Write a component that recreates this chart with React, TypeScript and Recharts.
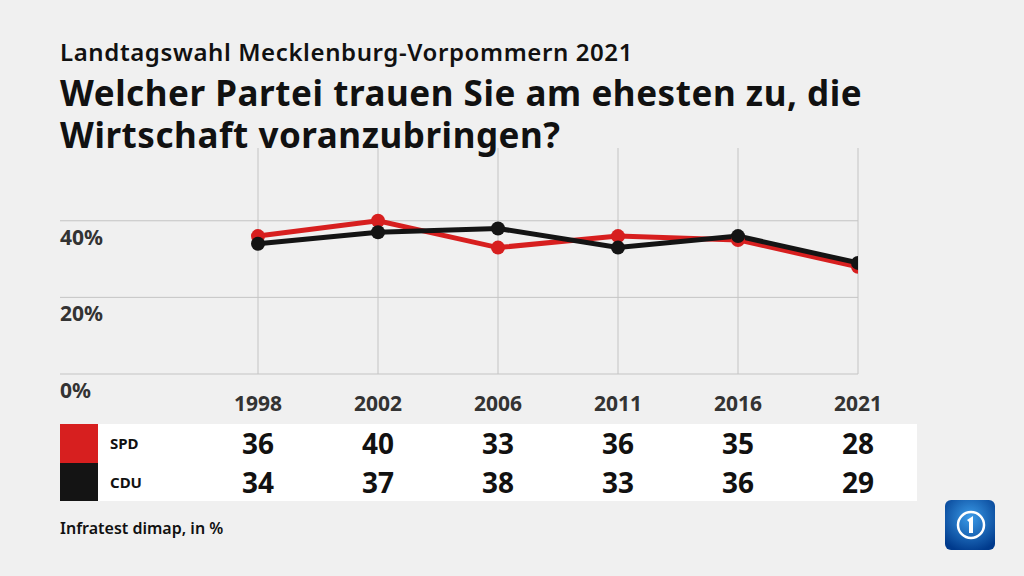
import React from 'react';
import { LineChart, Line, XAxis, YAxis, CartesianGrid } from 'recharts';

const years = ['1998', '2002', '2006', '2011', '2016', '2021'];
const spd = [36, 40, 33, 36, 35, 28];
const cdu = [34, 37, 38, 33, 36, 29];
const yTicks = [0, 20, 40];
const xTicks = [0, 1, 2, 3, 4, 5];

const data = years.map((year, i) => ({ i, year, spd: spd[i], cdu: cdu[i] }));

const RED = '#d71f1f';
const BLACK = '#141414';
const BG = '#f0f0f0';
const FONT = '"Noto Sans", "Open Sans", sans-serif';

const plotLeft = 60;
const plotRight = 858;
const xMin = -1.65;
const xMax = 5;
const xPos = (i: number) => plotLeft + ((i - xMin) / (xMax - xMin)) * (plotRight - plotLeft);

const titleLines = ['Welcher Partei trauen Sie am ehesten zu, die', 'Wirtschaft voranzubringen?'];

const YTick = (props: any) => {
  const { x, y, payload } = props;
  return (
    <text x={x} y={y + 24} fill="#333" fontSize={21} fontWeight={700} fontFamily={FONT} textAnchor="start">
      {payload.value}%
    </text>
  );
};

const XTick = (props: any) => {
  const { x, y, payload } = props;
  return (
    <text x={x} y={y + 29} fill="#333" fontSize={21} fontWeight={700} fontFamily={FONT} textAnchor="middle">
      {years[payload.value]}
    </text>
  );
};

const Logo = () => (
  <svg width={50} height={50} viewBox="0 0 50 50" style={{ position: 'absolute', left: 945, top: 500 }}>
    <defs>
      <radialGradient id="lg" cx="50%" cy="35%" r="70%">
        <stop offset="0%" stopColor="#3b9be8" />
        <stop offset="100%" stopColor="#003a8c" />
      </radialGradient>
    </defs>
    <rect x={0} y={0} width={50} height={50} rx={6} fill="url(#lg)" />
    <circle cx={26} cy={25} r={13} fill="none" stroke="#fff" strokeWidth={2.5} />
    <path d="M22 20 L28 16 L28 33 L24 33 L24 22 Z" fill="#fff" />
  </svg>
);

export default function App() {
  return (
    <div style={{ position: 'absolute', left: 0, top: 0, width: 1024, height: 576, background: BG, fontFamily: FONT, overflow: 'hidden' }}>
      <div style={{ position: 'absolute', left: 0, top: 0 }}>
        <LineChart width={1024} height={576} data={data} margin={{ top: 148, left: 0, right: 1024 - plotRight, bottom: 162 }}>
          <CartesianGrid stroke="#c4c4c4" strokeWidth={1} syncWithTicks />
          <XAxis
            dataKey="i"
            type="number"
            domain={[xMin, xMax]}
            ticks={xTicks}
            allowDataOverflow
            axisLine={false}
            tickLine={false}
            height={40}
            tick={<XTick />}
            interval={0}
          />
          <YAxis
            type="number"
            domain={[0, 59]}
            ticks={yTicks}
            allowDataOverflow
            width={plotLeft}
            tickSize={0}
            tickMargin={0}
            axisLine={false}
            tickLine={false}
            tick={<YTick />}
            interval={0}
          />
          <Line dataKey="spd" stroke={RED} strokeWidth={5} dot={{ r: 7, fill: RED, stroke: RED, strokeWidth: 0 }} isAnimationActive={false} />
          <Line dataKey="cdu" stroke={BLACK} strokeWidth={5} dot={{ r: 7, fill: BLACK, stroke: BLACK, strokeWidth: 0 }} isAnimationActive={false} />
        </LineChart>
      </div>
      <div style={{ position: 'absolute', left: 60, top: 35, fontSize: 24, fontWeight: 600, color: '#111', letterSpacing: 0.6, whiteSpace: 'nowrap' }}>
        Landtagswahl Mecklenburg-Vorpommern 2021
      </div>
      {titleLines.map((line, k) => (
        <div
          key={k}
          style={{ position: 'absolute', left: 60, top: 74 + k * 42, fontSize: 35, fontWeight: 700, color: '#111', lineHeight: '38px', letterSpacing: 0.55, whiteSpace: 'nowrap' }}
        >
          {line}
        </div>
      ))}
      <div style={{ position: 'absolute', left: 98, top: 424, width: 819, height: 77, background: '#fff' }} />
      {[
        { name: 'SPD', color: RED, values: spd },
        { name: 'CDU', color: BLACK, values: cdu },
      ].map((row, r) => (
        <React.Fragment key={row.name}>
          <div style={{ position: 'absolute', left: 60, top: 424 + r * 38.5, width: 38, height: 38.5, background: row.color }} />
          <div style={{ position: 'absolute', left: 110, top: 424 + r * 38.5, height: 38.5, lineHeight: '38.5px', fontSize: 15, fontWeight: 700, color: '#111' }}>
            {row.name}
          </div>
          {row.values.map((v, i) => (
            <div
              key={i}
              style={{ position: 'absolute', left: xPos(i) - 40, width: 80, textAlign: 'center', top: 424 + r * 38.5, height: 38.5, lineHeight: '38.5px', fontSize: 28, fontWeight: 700, color: '#111' }}
            >
              {v}
            </div>
          ))}
        </React.Fragment>
      ))}
      <div style={{ position: 'absolute', left: 60, top: 517, fontSize: 16, fontWeight: 600, color: '#111' }}>Infratest dimap, in %</div>
      <Logo />
    </div>
  );
}
